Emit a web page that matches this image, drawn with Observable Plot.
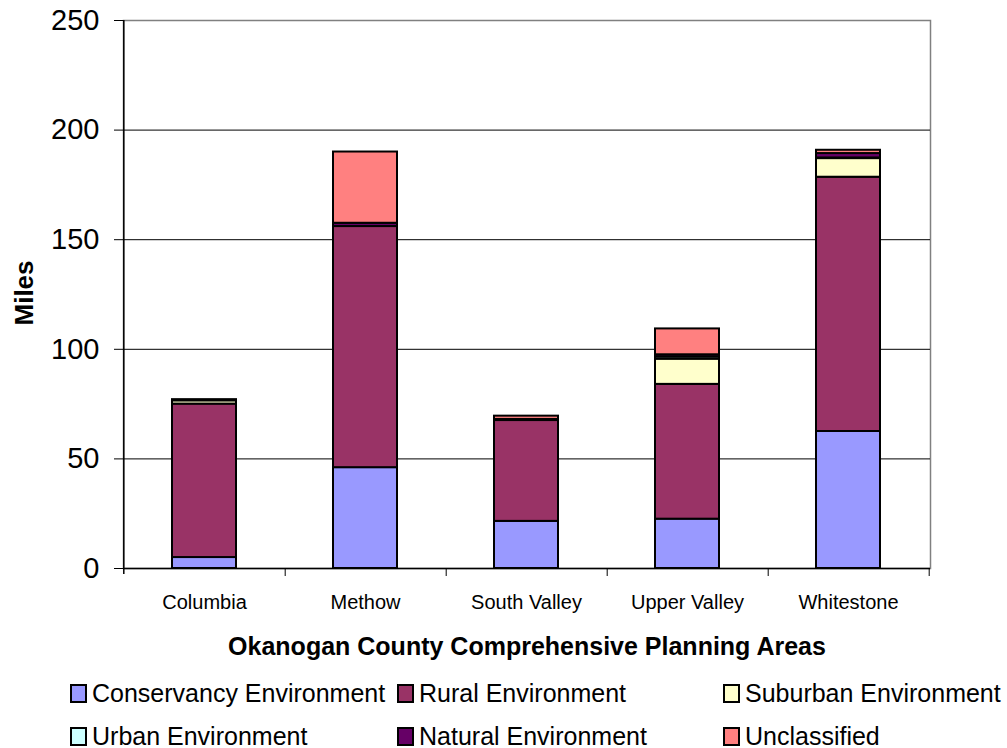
<!DOCTYPE html>
<html>
<head>
<meta charset="utf-8">
<script src="https://cdn.jsdelivr.net/npm/d3@7"></script>
<script src="https://cdn.jsdelivr.net/npm/@observablehq/plot@0.6"></script>
<style>
  body { margin: 0; background: #fff; font-family: "Liberation Sans", Arial, sans-serif; }
  #chart { position: relative; width: 1007px; }
  .legend { position: relative; width: 1007px; height: 73px; }
  .item { position: absolute; display: flex; align-items: center; font-size: 25px; color: #000; white-space: nowrap; }
  .sw { width: 13px; height: 15px; border: 2px solid #000; margin-right: 5px; }
</style>
</head>
<body>
<div id="chart"></div>
<script>
const areas = ["Columbia", "Methow", "South Valley", "Upper Valley", "Whitestone"];
const seriesNames = ["Conservancy Environment", "Rural Environment", "Suburban Environment", "Urban Environment", "Natural Environment", "Unclassified"];
const seriesColors = ["#9999FF", "#993366", "#FFFFCC", "#CCFFFF", "#660066", "#FF8080"];
const conservancy = [5, 46, 21.5, 22.5, 62.5];
const rural = [70, 110, 46, 61.5, 116];
const suburban = [1.5, 0, 0, 11.5, 8.5];
const urban = [0.3, 0, 0, 1.0, 0.3];
const natural = [0, 1.5, 0.5, 1.0, 2];
const unclassified = [0.2, 32.5, 1.5, 11.8, 1.5];
const yTicks = [0, 50, 100, 150, 200, 250];
const gridValues = [50, 100, 150, 200];
const yTitle = "Miles";
const xTitle = "Okanogan County Comprehensive Planning Areas";

const seriesValues = [conservancy, rural, suburban, urban, natural, unclassified];
const rows = [];
seriesNames.forEach((s, i) => areas.forEach((a, j) => rows.push({area: a, series: s, value: seriesValues[i][j]})));

const W = 1007, H = 675, ML = 123, MR = 77, MT = 20, MB = 107;
const step = (W - ML - MR) / areas.length;

const chart = Plot.plot({
  width: W, height: H,
  marginLeft: ML, marginRight: MR, marginTop: MT, marginBottom: MB,
  style: {fontFamily: "'Liberation Sans', Arial, sans-serif", background: "#fff"},
  x: {domain: areas, type: "band", paddingInner: 0.6, paddingOuter: 0.3, label: null},
  y: {domain: [0, 250], label: null},
  color: {domain: seriesNames, range: seriesColors},
  marks: [
    Plot.frame({stroke: "#808080", strokeWidth: 1.5}),
    Plot.ruleY(gridValues, {stroke: "#000", strokeWidth: 1}),
    Plot.barY(rows, {x: "area", y: "value", fill: "series", stroke: "#000", strokeWidth: 2}),
    Plot.ruleY([0], {stroke: "#000", strokeWidth: 1.5}),
    Plot.ruleX([areas[0]], {stroke: "#000", strokeWidth: 1.5, dx: -step / 2, insetBottom: -6}),
    Plot.ruleX(areas, {stroke: "#000", strokeWidth: 1, dx: step / 2, y1: 0, y2: 0, insetBottom: -8}),
    Plot.axisY({ticks: yTicks, tickSize: 9, tickPadding: 15, fontSize: 29, label: null, tickFormat: d => String(d)}),
    Plot.axisX({tickSize: 0, tickPadding: 26, fontSize: 20, label: null}),
    Plot.text([yTitle], {frameAnchor: "left", dx: -99, dy: 31, rotate: -90, fontSize: 26, fontWeight: "bold", fill: "#000"}),
    Plot.text([xTitle], {frameAnchor: "bottom", dy: 86, fontSize: 25, fontWeight: "bold", fill: "#000"})
  ]
});
document.getElementById("chart").appendChild(chart);

const legend = document.createElement("div");
legend.className = "legend";
const colX = [70, 397, 723];
const rowY = [4, 47];
seriesNames.forEach((s, i) => {
  const it = document.createElement("div");
  it.className = "item";
  it.style.left = colX[i % 3] + "px";
  it.style.top = rowY[Math.floor(i / 3)] + "px";
  const sw = document.createElement("span");
  sw.className = "sw";
  sw.style.background = seriesColors[i];
  it.appendChild(sw);
  it.appendChild(document.createTextNode(s));
  legend.appendChild(it);
});
document.getElementById("chart").appendChild(legend);
</script>
</body>
</html>
